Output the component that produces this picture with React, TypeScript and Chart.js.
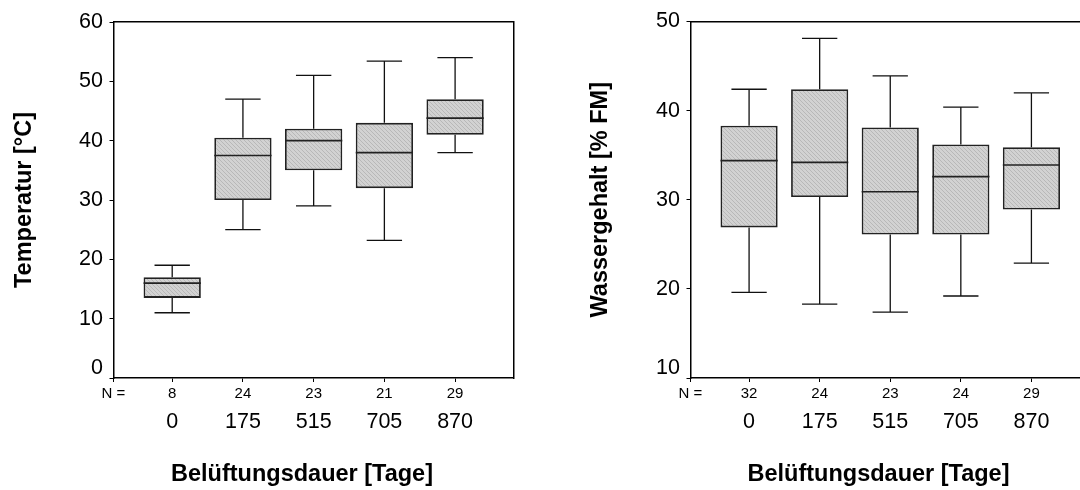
import React, { useEffect, useRef } from 'react';
import { Chart, registerables } from 'chart.js';

Chart.register(...registerables);

// ---- data ----
const DAYS = ['0', '175', '515', '705', '870'];

const TEMP_N = ['8', '24', '23', '21', '29'];
const TEMP_MIN = [11, 25, 29, 23.2, 38];
const TEMP_Q1 = [13.5, 30, 35, 32, 41];
const TEMP_MED = [16, 37.5, 40, 38, 43.8];
const TEMP_Q3 = [17, 40.5, 42, 43, 47];
const TEMP_MAX = [19, 47, 51, 53.4, 54];

const WATER_N = ['32', '24', '23', '24', '29'];
const WATER_MIN = [19.6, 18.3, 17.4, 19.2, 22.9];
const WATER_Q1 = [26.9, 30.3, 26.1, 26.1, 28.9];
const WATER_MED = [34.4, 34.2, 30.9, 32.6, 33.9];
const WATER_Q3 = [38.3, 42.4, 38.1, 36.2, 35.9];
const WATER_MAX = [42.4, 48.1, 43.9, 40.4, 42.0];

const X_TITLE = 'Belüftungsdauer [Tage]';
const FONT = '"Liberation Sans", Arial, sans-serif';

const X_MIN = -0.83;
const X_MAX = 4.83;
const CAP = 0.5;

function makePattern(): CanvasPattern | string {
  const c = document.createElement('canvas');
  c.width = 4;
  c.height = 4;
  const g = c.getContext('2d');
  if (!g) return '#cccccc';
  g.fillStyle = '#d2d2d2';
  g.fillRect(0, 0, 4, 4);
  g.fillStyle = '#b8b8b8';
  for (let i = 0; i < 4; i++) g.fillRect(i, i, 1, 1);
  return g.createPattern(c, 'repeat') || '#cccccc';
}

function makeBoxPlugin(lo: number[], med: number[], hi: number[], q1: number[], q3: number[]) {
  return {
    id: 'boxWhiskers',
    afterDatasetsDraw(chart: any) {
      const ctx = chart.ctx;
      const xs = chart.scales.x;
      const ys = chart.scales.y;
      const meta = chart.getDatasetMeta(0);
      ctx.save();
      for (let i = 0; i < lo.length; i++) {
        const cx = xs.getPixelForValue(i);
        const cl = xs.getPixelForValue(i - CAP / 2);
        const cr = xs.getPixelForValue(i + CAP / 2);
        const pLo = ys.getPixelForValue(lo[i]);
        const pHi = ys.getPixelForValue(hi[i]);
        const pQ1 = ys.getPixelForValue(q1[i]);
        const pQ3 = ys.getPixelForValue(q3[i]);
        const pMd = ys.getPixelForValue(med[i]);
        ctx.strokeStyle = '#111';
        ctx.lineWidth = 1.3;
        ctx.beginPath();
        ctx.moveTo(cx, pQ1);
        ctx.lineTo(cx, pLo);
        ctx.moveTo(cl, pLo);
        ctx.lineTo(cr, pLo);
        ctx.moveTo(cx, pQ3);
        ctx.lineTo(cx, pHi);
        ctx.moveTo(cl, pHi);
        ctx.lineTo(cr, pHi);
        ctx.stroke();
        const bar = meta.data[i];
        const half = bar.width / 2;
        ctx.strokeStyle = '#222';
        ctx.lineWidth = 1.7;
        ctx.beginPath();
        ctx.moveTo(bar.x - half, pMd);
        ctx.lineTo(bar.x + half, pMd);
        ctx.stroke();
      }
      ctx.restore();
    },
  };
}

type Cfg = {
  nLabels: string[];
  lo: number[];
  q1: number[];
  med: number[];
  q3: number[];
  hi: number[];
  yMin: number;
  yMax: number;
  yTitle: string;
  leftWidth: number;
  rightWidth: number;
  yTitlePad: number;
  padTop: number;
};

function buildConfig(cfg: Cfg): any {
  const pattern = makePattern();
  const tickFont = { family: FONT, size: 21.5 };
  const titleFont = { family: FONT, size: 23.5, weight: 'bold' as const, lineHeight: 1.2 };
  const hiddenAxis = (position: string, isX: boolean, size: number) => ({
    type: 'linear',
    position,
    offset: false,
    min: isX ? X_MIN : cfg.yMin,
    max: isX ? X_MAX : cfg.yMax,
    ticks: { display: false },
    grid: { display: true, offset: false, drawOnChartArea: false, drawTicks: false },
    border: { display: true, color: '#000', width: 1.5 },
    afterFit: (s: any) => {
      if (isX) s.height = size;
      else s.width = size;
    },
  });
  return {
    type: 'bar',
    data: {
      datasets: [
        {
          data: cfg.q1.map((v, i) => ({ x: i, y: [v, cfg.q3[i]] })),
          xAxisID: 'x',
          yAxisID: 'y',
          backgroundColor: pattern,
          borderColor: '#222',
          borderWidth: 1.8,
          borderSkipped: false,
          barPercentage: 0.81,
          categoryPercentage: 1,
        },
      ],
    },
    options: {
      animation: false,
      responsive: false,
      devicePixelRatio: 1,
      layout: { padding: { top: cfg.padTop, left: 0, right: 0, bottom: 0 } },
      plugins: {
        legend: { display: false },
        tooltip: { enabled: false },
        title: {
          display: true,
          position: 'bottom',
          text: X_TITLE,
          color: '#000',
          font: titleFont,
          padding: { top: 0, bottom: 1 },
        },
      },
      scales: {
        y: {
          type: 'linear',
          position: 'left',
          min: cfg.yMin,
          max: cfg.yMax,
          ticks: {
            stepSize: 10,
            color: '#000',
            font: (c: any) => (c.index === 0 ? { family: FONT, size: 21.5, lineHeight: 0.88 } : tickFont),
            padding: 6.5,
            callback: (v: any, i: number) => (i === 0 ? [String(v), ''] : String(v)),
          },
          grid: { display: true, drawOnChartArea: false, drawTicks: true, tickLength: 4, color: '#000', lineWidth: 1 },
          border: { display: true, color: '#000', width: 1.5 },
          title: {
            display: true,
            text: cfg.yTitle,
            color: '#000',
            font: titleFont,
            padding: { top: cfg.yTitlePad, bottom: 0 },
          },
          afterFit: (s: any) => {
            s.width = cfg.leftWidth;
          },
        },
        yr: hiddenAxis('right', false, cfg.rightWidth),
        xt: hiddenAxis('top', true, 0),
        xn: {
          type: 'linear',
          position: 'bottom',
          weight: 1,
          offset: false,
          min: X_MIN,
          max: X_MAX,
          afterBuildTicks: (s: any) => {
            s.ticks = [{ value: X_MIN }, ...cfg.nLabels.map((_, i) => ({ value: i }))];
          },
          ticks: {
            autoSkip: false,
            maxRotation: 0,
            minRotation: 0,
            color: '#000',
            font: { family: FONT, size: 15 },
            padding: 3,
            callback: (_v: any, i: number) => (i === 0 ? 'N =' : cfg.nLabels[i - 1]),
          },
          grid: {
            display: true,
            offset: false,
            drawOnChartArea: false,
            drawTicks: true,
            tickLength: 4,
            color: '#000',
            lineWidth: 1,
          },
          border: { display: true, color: '#000', width: 1.5 },
          afterFit: (s: any) => {
            s.height = 25;
          },
        },
        x: {
          type: 'linear',
          position: 'bottom',
          weight: 2,
          offset: false,
          min: X_MIN,
          max: X_MAX,
          afterBuildTicks: (s: any) => {
            s.ticks = DAYS.map((_, i) => ({ value: i }));
          },
          ticks: {
            autoSkip: false,
            maxRotation: 0,
            minRotation: 0,
            color: '#000',
            font: tickFont,
            padding: 6.4,
            callback: (_v: any, i: number) => DAYS[i],
          },
          grid: { display: false, offset: false, drawTicks: false },
          border: { display: false },
          afterFit: (s: any) => {
            s.height = 57.8;
          },
        },
      },
    },
    plugins: [makeBoxPlugin(cfg.lo, cfg.med, cfg.hi, cfg.q1, cfg.q3)],
  };
}

function BoxChart({ cfg, left, width }: { cfg: Cfg; left: number; width: number }) {
  const ref = useRef<HTMLCanvasElement | null>(null);
  useEffect(() => {
    if (!ref.current) return;
    const chart = new Chart(ref.current, buildConfig(cfg));
    return () => chart.destroy();
  }, []);
  return (
    <canvas
      ref={ref}
      width={width}
      height={490}
      style={{ position: 'absolute', left, top: 0, width, height: 490 }}
    />
  );
}

const LEFT_CFG: Cfg = {
  nLabels: TEMP_N,
  lo: TEMP_MIN,
  q1: TEMP_Q1,
  med: TEMP_MED,
  q3: TEMP_Q3,
  hi: TEMP_MAX,
  yMin: 0,
  yMax: 60,
  yTitle: 'Temperatur [°C]',
  leftWidth: 113.5,
  rightWidth: 90.2,
  yTitlePad: 10,
  padTop: 22,
};

const RIGHT_CFG: Cfg = {
  nLabels: WATER_N,
  lo: WATER_MIN,
  q1: WATER_Q1,
  med: WATER_MED,
  q3: WATER_Q3,
  hi: WATER_MAX,
  yMin: 10,
  yMax: 50,
  yTitle: 'Wassergehalt [% FM]',
  leftWidth: 130.5,
  rightWidth: 107,
  yTitlePad: 26.2,
  padTop: 21.5,
};

export default function App() {
  return (
    <div
      style={{
        position: 'fixed',
        left: 0,
        top: 0,
        width: 1080,
        height: 490,
        overflow: 'hidden',
        background: '#fff',
      }}
    >
      <BoxChart cfg={LEFT_CFG} left={0} width={604} />
      <BoxChart cfg={RIGHT_CFG} left={560} width={637} />
    </div>
  );
}
